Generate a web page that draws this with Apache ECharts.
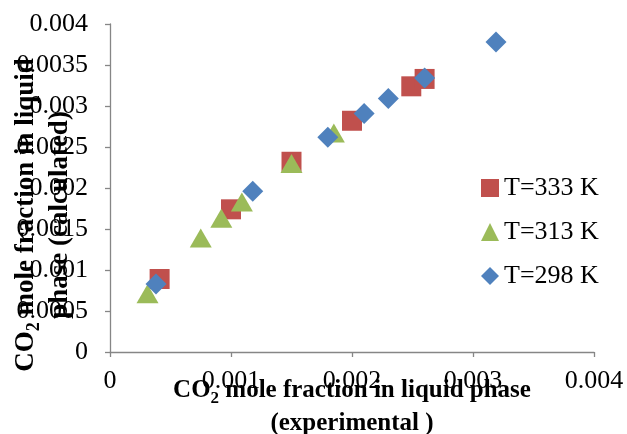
<!DOCTYPE html>
<html>
<head>
<meta charset="utf-8">
<script src="https://cdn.jsdelivr.net/npm/echarts@6/dist/echarts.min.js"></script>
<style>
html,body{margin:0;padding:0;background:#fff;}
#chart{width:627px;height:434px;}
</style>
</head>
<body>
<div id="chart"></div>
<script>
const seriesNames = ['T=333 K', 'T=313 K', 'T=298 K'];
const x333 = [0.00041, 0.00100, 0.00150, 0.00200, 0.00249, 0.00260];
const y333 = [0.00089, 0.00174, 0.00232, 0.00282, 0.00324, 0.00333];
const x313 = [0.00031, 0.00075, 0.00092, 0.00109, 0.00150, 0.00185];
const y313 = [0.00071, 0.00139, 0.00163, 0.00183, 0.00230, 0.00267];
const x298 = [0.00038, 0.00118, 0.00180, 0.00210, 0.00230, 0.00260, 0.00319];
const y298 = [0.00083, 0.00196, 0.00262, 0.00291, 0.00309, 0.00334, 0.00378];

const FONT = "'Liberation Serif', 'Times New Roman', serif";
const pair = (xs, ys) => xs.map((v, i) => [v, ys[i]]);

const chart = echarts.init(document.getElementById('chart'), null, {renderer: 'canvas'});
const axisCommon = {
  axisLine: {show: true, lineStyle: {color: '#868686', width: 1.3}},
  axisTick: {show: true, inside: false, length: 5, lineStyle: {color: '#868686', width: 1.3}},
  splitLine: {show: false},
  nameMoveOverlap: false
};
chart.setOption({
  animation: false,
  backgroundColor: '#ffffff',
  grid: {left: 110, right: 33, top: 24, bottom: 82, containLabel: false, outerBoundsMode: 'none'},
  legend: {
    orient: 'vertical',
    left: 476,
    top: 170,
    itemWidth: 18,
    itemHeight: 18,
    itemGap: 18,
    textStyle: {fontFamily: FONT, fontSize: 26, color: '#000', lineHeight: 26},
    data: [
      {name: seriesNames[0], icon: 'rect'},
      {name: seriesNames[1], icon: 'triangle'},
      {name: seriesNames[2], icon: 'diamond'}
    ]
  },
  xAxis: Object.assign({
    type: 'value', min: 0, max: 0.004, interval: 0.001,
    axisLabel: {fontFamily: FONT, fontSize: 26, color: '#000', margin: 16},
    name: '{b|CO}{s|2}{b| mole fraction in liquid phase}\n{b|(experimental )}',
    nameLocation: 'middle',
    nameGap: 22,
    nameTextStyle: {
      fontFamily: FONT, fontSize: 25, fontWeight: 'bold', color: '#000', lineHeight: 33,
      rich: {
        b: {fontFamily: FONT, fontSize: 25, fontWeight: 'bold', color: '#000', lineHeight: 33, align: 'center'},
        s: {fontFamily: FONT, fontSize: 17, fontWeight: 'bold', color: '#000', lineHeight: 17, padding: [12, 0, 0, 0], verticalAlign: 'bottom', align: 'center'}
      }
    }
  }, axisCommon),
  yAxis: Object.assign({
    type: 'value', min: 0, max: 0.004, interval: 0.0005,
    axisLabel: {fontFamily: FONT, fontSize: 26, color: '#000', margin: 22},
    name: '{b|CO}{s|2}{b| mole fraction in liquid}\n{b|phase (calculated)}',
    nameLocation: 'middle',
    nameRotate: 90,
    nameGap: 33,
    nameTextStyle: {
      fontFamily: FONT, fontSize: 27, fontWeight: 'bold', color: '#000', lineHeight: 34,
      padding: [0, 54, 0, 0],
      rich: {
        b: {fontFamily: FONT, fontSize: 27, fontWeight: 'bold', color: '#000', lineHeight: 34, align: 'center'},
        s: {fontFamily: FONT, fontSize: 18, fontWeight: 'bold', color: '#000', lineHeight: 18, padding: [12, 0, 0, 0], verticalAlign: 'bottom', align: 'center'}
      }
    }
  }, axisCommon),
  series: [
    {name: seriesNames[0], type: 'scatter', symbol: 'rect', symbolSize: 20,
     itemStyle: {color: '#C0504D', opacity: 1}, data: pair(x333, y333)},
    {name: seriesNames[1], type: 'scatter', symbol: 'triangle', symbolSize: [22, 19],
     itemStyle: {color: '#9BBB59', opacity: 1}, data: pair(x313, y313)},
    {name: seriesNames[2], type: 'scatter', symbol: 'diamond', symbolSize: 21,
     itemStyle: {color: '#4F81BD', opacity: 1}, data: pair(x298, y298)}
  ]
});
</script>
</body>
</html>
